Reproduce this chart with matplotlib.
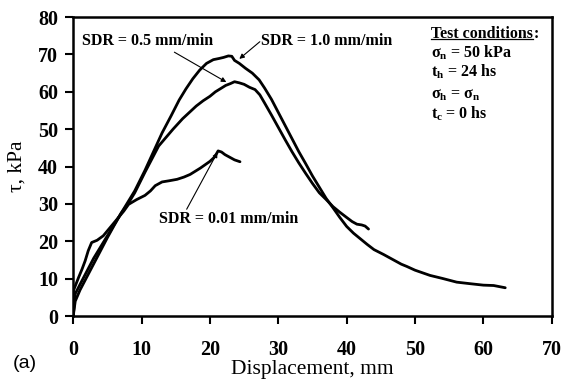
import matplotlib
matplotlib.use('Agg')
import matplotlib.pyplot as plt
from matplotlib.lines import Line2D

plt.rcParams['font.family'] = ['Liberation Serif', 'DejaVu Serif']
plt.rcParams['mathtext.fontset'] = 'custom'
plt.rcParams['mathtext.rm'] = 'Liberation Serif:bold'
plt.rcParams['mathtext.it'] = 'Liberation Serif:italic'

# ── DATA ─────────────────────────────────────────────────────
# SDR = 1.0 mm/min : highest peak, long tail
x_10 = [0, 0.3, 1, 2, 3, 4, 5, 6, 7, 8, 9, 10.5, 12, 13, 14.3, 15.5, 16.5,
        17.5, 18.5, 19.5, 20.5, 21.3, 22, 22.7, 23.2, 23.6, 24.3, 25.2, 26.2,
        27.2, 28, 29, 30, 31, 32, 33, 34, 35, 36, 37, 38, 39, 40, 41, 42, 43,
        44, 45.4, 46.5, 48, 48.8, 50, 52.2, 54, 56.1, 58, 60, 61.5, 63.2]
y_10 = [0, 4, 7, 10.5, 14, 17.5, 21, 24.3, 27.5, 30.5, 33.5, 39, 45, 49,
        53.5, 57.8, 60.8, 63.5, 65.8, 67.6, 68.6, 68.9, 69.2, 69.6, 69.5, 68.4,
        67.6, 66.3, 65, 63.2, 61, 58, 54.5, 51, 47.5, 44, 40.8, 37.5, 34.5,
        31.5, 29, 26.4, 24, 22.2, 20.7, 19.2, 17.8, 16.5, 15.4, 13.9, 13.3,
        12.3, 10.9, 10.1, 9.1, 8.7, 8.3, 8.2, 7.6]

# SDR = 0.5 mm/min : middle peak, ends near 43 mm
x_05 = [0, 0.3, 1, 2, 3, 4, 5, 6, 7, 8, 9, 10.5, 12.5, 14.6, 16, 17, 18,
        19, 20, 20.8, 21.6, 22.3, 23, 23.6, 24.3, 25, 25.8, 26.6, 27.3,
        28, 29, 30, 31, 32, 33, 34, 35, 36, 37, 38, 39, 40, 40.8, 41.5,
        42.2, 42.7, 43.2]
y_05 = [0, 6, 8.5, 12, 15.5, 18.5, 21.5, 24.5, 27.5, 30, 33, 38.5, 45.5,
        50, 52.8, 54.5, 56.2, 57.6, 58.8, 60, 60.9, 61.7, 62.2, 62.7, 62.4,
        62, 61.2, 60.6, 59.2, 57, 53.8, 50.5, 47.2, 44, 41, 38.2, 35.5, 33,
        31.2, 29.3, 27.8, 26.4, 25.3, 24.6, 24.4, 24.1, 23.3]

# SDR = 0.01 mm/min : lowest peak, ends near 24 mm
x_001 = [0, 0.05, 0.8, 1.3, 1.75, 2.2, 2.7, 3.5, 4.4, 5.4, 6.4, 7.4, 8.1,
         9.3, 10.5, 11.3, 12, 13, 14, 15.2, 16.2, 17.1, 18.6, 20, 20.7,
         21.2, 21.7, 22.2, 23, 23.6, 24.4]
y_001 = [0, 6.9, 10.4, 12.6, 14.8, 17.5, 19.7, 20.3, 21.5, 23.7, 25.9,
         28.1, 29.9, 31.2, 32.3, 33.5, 34.9, 35.9, 36.2, 36.6, 37.2, 37.9,
         39.6, 41.4, 42.6, 44.2, 43.9, 43.2, 42.4, 41.8, 41.3]

conditions = ['σ$_\\mathrm{n}$ = 50 kPa', 't$_\\mathrm{h}$ = 24 hs',
              'σ$_\\mathrm{h}$ = σ$_\\mathrm{n}$', 't$_\\mathrm{c}$ = 0 hs']
cond_y = [70.5, 65.3, 59.2, 54.0]

x_ticks = list(range(0, 71, 10))
y_ticks = list(range(0, 81, 10))

# ── FIGURE ───────────────────────────────────────────────────
fig = plt.figure(figsize=(5.63, 3.87), dpi=100)
ax = fig.add_axes([0.130, 0.183, 0.850, 0.773])

for xs, ys in [(x_10, y_10), (x_05, y_05), (x_001, y_001)]:
    ax.plot(xs, ys, color='black', linewidth=2.0, solid_joinstyle='round',
            solid_capstyle='round')

ax.set_xlim(0, 70)
ax.set_ylim(0, 80)
ax.set_xticks(x_ticks)
ax.set_yticks(y_ticks)
ax.tick_params(direction='out', length=6, width=1.5, labelsize=14.5)
ax.tick_params(axis='x', pad=11)
ax.tick_params(axis='y', pad=5)
for lbl in ax.get_xticklabels() + ax.get_yticklabels():
    lbl.set_fontweight('bold')
for spine in ax.spines.values():
    spine.set_linewidth(1.8)

ax.set_xlabel('Displacement, mm', fontsize=15.5, labelpad=0)
ax.set_ylabel('τ, kPa', fontsize=15.5, labelpad=3)
ax.yaxis.set_label_coords(-0.098, 0.5)
fig.text(0.022, 0.062, '(a)', fontsize=14, family='Liberation Sans',
         va='center')

# curve labels with arrows
lab_fs = 11.5
lab_kw = dict(fontsize=lab_fs, fontweight='bold', va='center')
arr_kw = dict(arrowstyle='-|>', lw=0.8, color='black',
              mutation_scale=7, shrinkA=0, shrinkB=0)
ax.text(1.3, 73.7, 'SDR = 0.5 mm/min', **lab_kw)
ax.annotate('', xy=(22.4, 62.6), xytext=(14.8, 70.6), arrowprops=arr_kw)
ax.text(27.5, 73.7, 'SDR = 1.0 mm/min', **lab_kw)
ax.annotate('', xy=(24.3, 68.8), xytext=(27.3, 73.4), arrowprops=arr_kw)
ax.text(12.6, 26.0, 'SDR = 0.01 mm/min', **lab_kw)
ax.annotate('', xy=(21.1, 43.8), xytext=(16.6, 28.6), arrowprops=arr_kw)

# test conditions box text
t1 = ax.text(52.4, 75.5, 'Test conditions', **lab_kw)
ax.annotate(':', xy=(1, 0), xycoords=t1, va='bottom', ha='left',
            fontsize=lab_fs, fontweight='bold')
for txt, yy in zip(conditions, cond_y):
    ax.text(52.4, yy, txt, **lab_kw)

# underline "Test conditions"
fig.canvas.draw()
bb = t1.get_window_extent(fig.canvas.get_renderer())
inv = ax.transData.inverted()
(x0, y0), (x1, _) = inv.transform([(bb.x0, bb.y0 + 2.5), (bb.x1, bb.y0)])
ax.add_line(Line2D([x0, x1], [y0, y0], color='black', lw=0.9))

fig.savefig('out.png', dpi=100)
